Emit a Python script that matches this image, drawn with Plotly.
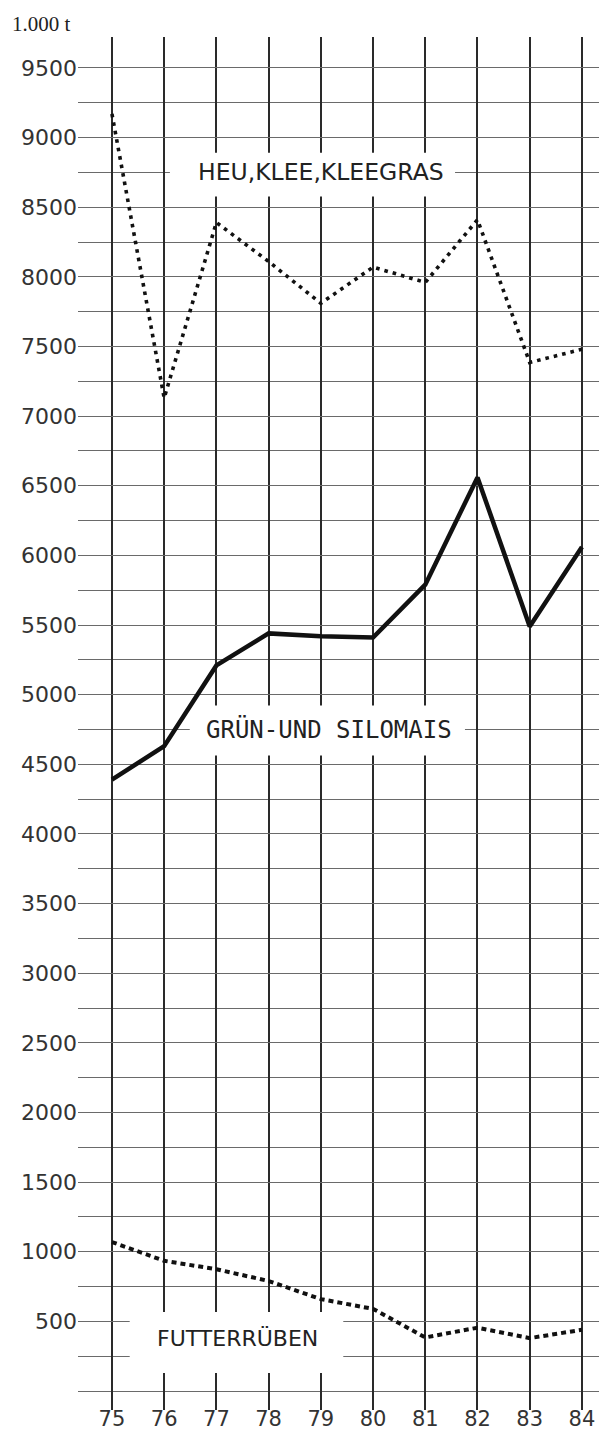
import plotly.graph_objs as go

years = [75, 76, 77, 78, 79, 80, 81, 82, 83, 84]
heu_klee = [9170, 7130, 8390, 8110, 7810, 8070, 7960, 8410, 7385, 7480]
silomais = [4390, 4630, 5210, 5440, 5420, 5410, 5790, 6560, 5490, 6060]
futterrueben = [1070, 935, 875, 790, 660, 590, 385, 455, 380, 440]

y_ticks = list(range(500, 10000, 500))
x_labels = [str(y) for y in years]

# the page body keeps its 8px margin, so the figure is sized to fit inside the window
FIG_W, FIG_H = 599, 1424

fig = go.Figure()

fig.add_trace(go.Scatter(x=years, y=heu_klee, name="HEU,KLEE,KLEEGRAS",
                         mode="lines",
                         line=dict(color="#111111", width=3.6, dash="3.6px,5px")))
fig.add_trace(go.Scatter(x=years, y=silomais, name="GRÜN-UND SILOMAIS",
                         mode="lines",
                         line=dict(color="#111111", width=4.5)))
fig.add_trace(go.Scatter(x=years, y=futterrueben, name="FUTTERRÜBEN",
                         mode="lines",
                         line=dict(color="#111111", width=4, dash="5px,4px")))

# white boxes behind the series labels, they cut the grid
label_boxes = [
    (76.11, 81.57, 8576, 8891),
    (76.49, 81.76, 4564, 4923),
    (75.34, 79.43, 130, 567),
]
for x0, x1, y0, y1 in label_boxes:
    fig.add_shape(type="rect", x0=x0, x1=x1, y0=y0, y1=y1,
                  xref="x", yref="y", layer="between",
                  fillcolor="white", line=dict(width=0))

fig.add_annotation(x=79.0, y=8750, text="HEU,KLEE,KLEEGRAS", showarrow=False,
                   font=dict(family="DejaVu Sans", size=23.5, color="#222222"))
fig.add_annotation(x=79.15, y=4750, text="GRÜN-UND SILOMAIS", showarrow=False,
                   font=dict(family="DejaVu Sans Mono", size=24, color="#222222"))
fig.add_annotation(x=77.41, y=375, text="FUTTERRÜBEN", showarrow=False,
                   font=dict(family="DejaVu Sans", size=22, color="#222222"))

fig.update_layout(
    width=FIG_W, height=FIG_H,
    margin=dict(l=70, r=0, t=29, b=22),
    paper_bgcolor="white", plot_bgcolor="white",
    showlegend=False,
    title=dict(text="1.000 t", x=4 / FIG_W, xanchor="left", y=1 - 16 / FIG_H, yanchor="middle",
               font=dict(family="Liberation Serif", size=21, color="#222222")),
    xaxis=dict(range=[74.35, 84.48], tickvals=years, ticktext=x_labels,
               showgrid=True, gridcolor="#2a2a2a", gridwidth=1.8,
               zeroline=False, showline=False, ticks="",
               ticklabelstandoff=-6,
               tickfont=dict(family="DejaVu Sans", size=21, color="#333333"),
               automargin=False),
    yaxis=dict(range=[-136, 9722], tickvals=y_ticks,
               showgrid=True, gridcolor="#6a6a6a", gridwidth=1.3,
               minor=dict(dtick=250, tick0=0, showgrid=True, gridcolor="#6a6a6a", gridwidth=1.3),
               zeroline=False, showline=False, ticks="",
               tickfont=dict(family="DejaVu Sans", size=22, color="#333333"),
               automargin=False),
)

fig.write_html("out.html")
